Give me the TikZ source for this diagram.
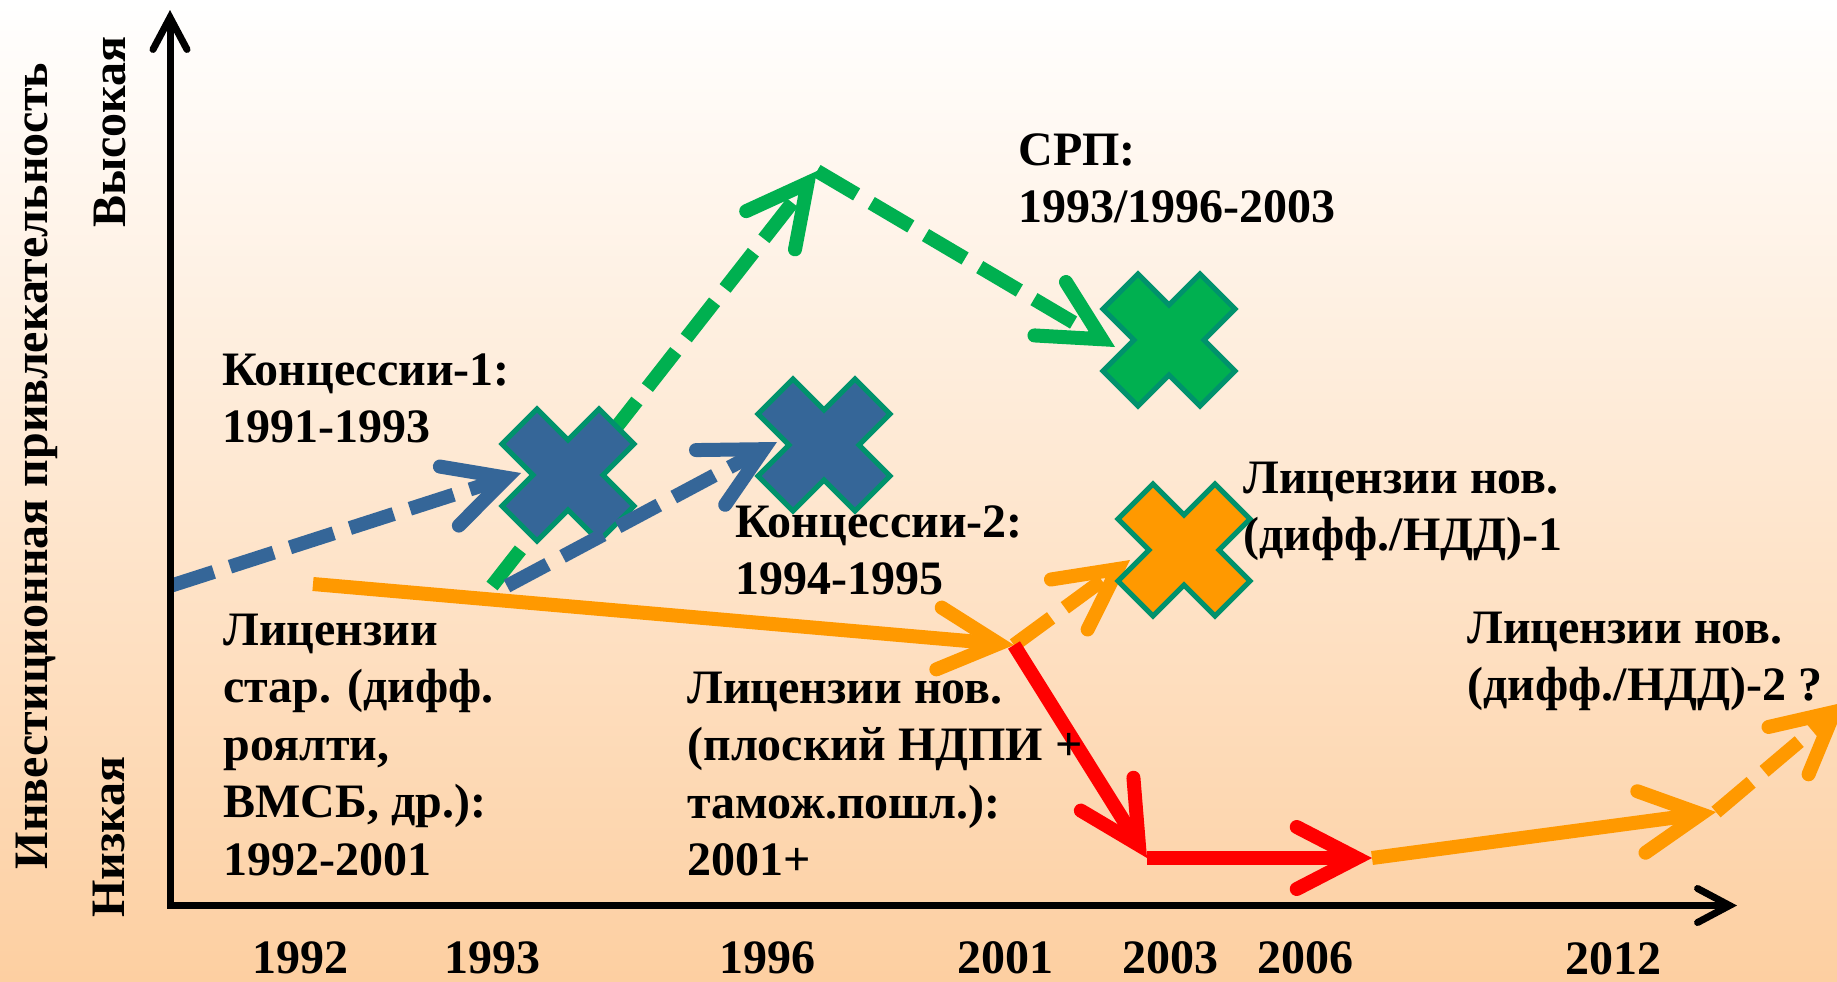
\documentclass[tikz,border=0pt]{standalone}
\usepackage{fontspec}
\setmainfont{Liberation Serif}
\usetikzlibrary{arrows.meta}
\definecolor{bgbot}{RGB}{253,207,161}
\definecolor{xblue}{RGB}{53,102,152}
\definecolor{xgreen}{RGB}{0,176,80}
\definecolor{xorange}{RGB}{255,153,0}
\definecolor{xred}{RGB}{255,0,0}
\definecolor{xedge}{RGB}{0,146,108}
\tikzset{
  txt/.style={font=\fontsize{24pt}{28.75pt}\selectfont\bfseries, inner sep=0pt},
  lbl/.style={txt, align=left, anchor=north west},
  yr/.style={txt, anchor=base},
  side/.style={txt, rotate=90, anchor=base},
  conn/.style={line width=7pt, -{Straight Barb[length=30pt,width=31pt,line cap=round]}},
  dsh/.style={dash pattern=on 23pt off 8.5pt},
  axisline/.style={line width=3.5pt, line join=miter,
    {Straight Barb[length=16pt,width=17pt,line cap=round]}-{Straight Barb[length=16pt,width=17pt,line cap=round]}},
  crossfill/.style={draw=xedge, line width=2.5pt, fill=#1},
  pics/xmark/.style={code={
    \draw[crossfill=#1] (-31,-66) -- (0,-35) -- (31,-66) -- (66,-31) -- (35,0) -- (66,31)
      -- (31,66) -- (0,35) -- (-31,66) -- (-66,31) -- (-35,0) -- (-66,-31) -- cycle;}}
}
\begin{document}
\begin{tikzpicture}[x=0.5pt,y=-0.5pt]
\useasboundingbox (0,0) rectangle (1837,981);
\shade[top color=white, bottom color=bgbot] (0,0) rectangle (1837,981);

% coordinates
\coordinate (ytip) at (170,10);
\coordinate (orig) at (170,905.5);
\coordinate (xtip) at (1737,905.5);
\coordinate (a0) at (170,586);
\coordinate (a1) at (521,473);
\coordinate (b0) at (507,586);
\coordinate (b1) at (777,442);
\coordinate (g0) at (492,586);
\coordinate (g1) at (817,171);
\coordinate (g2) at (1115,347);
\coordinate (o0) at (313,584);
\coordinate (o1) at (1014,645);
\coordinate (o2) at (1130,560);
\coordinate (r1) at (1147,858);
\coordinate (r2) at (1372,858);
\coordinate (o3) at (1716,812);
\coordinate (o4) at (1846,702);
\coordinate (x1) at (568,475);
\coordinate (x2) at (824,445);
\coordinate (xg) at (1169,340);
\coordinate (xo) at (1184,550);

% green
\draw[conn, dsh, xgreen] (g0) -- (g1);
\draw[conn, dsh, xgreen] (g1) -- (g2);
% blue A
\draw[conn, dsh, xblue] (a0) -- (a1);
% orange / red
\draw[conn, xorange] (o0) -- (o1);
\draw[conn, dsh, xorange] (o1) -- (o2);
\draw[conn, xred] (o1) -- (r1);
\draw[conn, xred] (r1) -- (r2);
\draw[conn, xorange] (r2) -- (o3);
\draw[conn, dsh, xorange] (o3) -- (o4);

% crosses
\pic at (x1) {xmark=xblue};
\pic at (x2) {xmark=xblue};
\pic at (xg) {xmark=xgreen};
\pic at (xo) {xmark=xorange};

% blue B
\draw[conn, dsh, xblue] (b0) -- (b1);

% labels
\node[lbl] (t1) at (222,344.75) {\strut Концессии-1:\\1991-1993};
\node[lbl] (t2) at (1018,124.75) {\strut СРП:\\1993/1996-2003};
\node[lbl] (t3) at (1243,452.75) {\strut Лицензии нов.\\(дифф./НДД)-1};
\node[lbl] (t4) at (735,496.75) {\strut Концессии-2:\\1994-1995};
\node[lbl] (t5) at (223,604.75) {\strut Лицензии\\стар. (дифф.\\роялти,\\ВМСБ, др.):\\1992-2001};
\node[lbl] (t6) at (687,662.75) {\strut Лицензии нов.\\(плоский НДПИ +\\тамож.пошл.):\\2001+};
\node[lbl] (t7) at (1467,602.75) {\strut Лицензии нов.\\(дифф./НДД)-2 ?};

% years
\node[yr] (y1992) at (300,973) {1992};
\node[yr] (y1993) at (492,973) {1993};
\node[yr] (y1996) at (767,973) {1996};
\node[yr] (y2001) at (1005,973) {2001};
\node[yr] (y2003) at (1170,973) {2003};
\node[yr] (y2006) at (1305,973) {2006};
\node[yr] (y2012) at (1613,974) {2012};

% side labels
\node[side] (ylab) at (47,466) {Инвестиционная привлекательность};
\node[side] (hi) at (125,132) {Высокая};
\node[side] (lo) at (124,837) {Низкая};

% axes
\draw[axisline] (ytip) -- (orig) -- (xtip);
\end{tikzpicture}
\end{document}
